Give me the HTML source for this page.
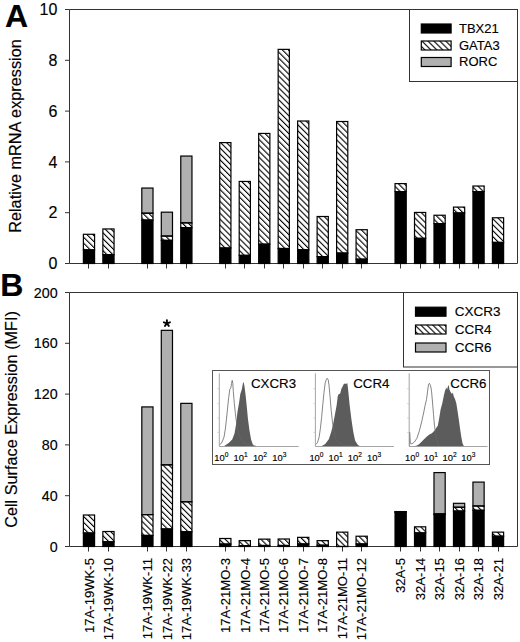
<!DOCTYPE html>
<html><head><meta charset="utf-8"><style>
html,body{margin:0;padding:0;background:#fff;width:520px;height:642px;overflow:hidden}
svg{display:block}
text{font-family:"Liberation Sans",sans-serif;fill:#000;stroke:#000;stroke-width:0.15px}
</style></head><body>
<svg width="520" height="642" viewBox="0 0 520 642" font-family="Liberation Sans, sans-serif">
<defs>
<pattern id="hatch" patternUnits="userSpaceOnUse" width="4.2" height="4.2" patternTransform="rotate(-45)">
<rect width="4.2" height="4.2" fill="#fff"/>
<rect x="0" y="0" width="1.1" height="4.2" fill="#000"/>
</pattern>
</defs>
<rect width="520" height="642" fill="#fff"/>
<text x="5.0" y="26.8" font-size="32" font-weight="bold">A</text>
<text x="0.3" y="296.4" font-size="32" font-weight="bold">B</text>
<text transform="translate(21.0,136.0) rotate(-90)" text-anchor="middle" font-size="16.3">Relative mRNA expression</text>
<text transform="translate(16.9,419.4) rotate(-90)" text-anchor="middle" font-size="16.25">Cell Surface Expression (MFI)</text>
<path d="M69.5,9.5H517.5V263.5H69.5Z" fill="none" stroke="#333" stroke-width="1"/>
<path d="M65.0,263.5H69.5" stroke="#333" stroke-width="1"/>
<text x="57.4" y="263.5" dy="0.36em" text-anchor="end" font-size="16">0</text>
<path d="M65.0,212.7H69.5" stroke="#333" stroke-width="1"/>
<text x="57.4" y="212.7" dy="0.36em" text-anchor="end" font-size="16">2</text>
<path d="M65.0,161.9H69.5" stroke="#333" stroke-width="1"/>
<text x="57.4" y="161.9" dy="0.36em" text-anchor="end" font-size="16">4</text>
<path d="M65.0,111.1H69.5" stroke="#333" stroke-width="1"/>
<text x="57.4" y="111.1" dy="0.36em" text-anchor="end" font-size="16">6</text>
<path d="M65.0,60.3H69.5" stroke="#333" stroke-width="1"/>
<text x="57.4" y="60.3" dy="0.36em" text-anchor="end" font-size="16">8</text>
<path d="M65.0,9.5H69.5" stroke="#333" stroke-width="1"/>
<text x="57.4" y="9.5" dy="0.36em" text-anchor="end" font-size="16">10</text>
<path d="M69.5,292.5H517.5V546.5H69.5Z" fill="none" stroke="#333" stroke-width="1"/>
<path d="M65.0,546.5H69.5" stroke="#333" stroke-width="1"/>
<text x="57.6" y="546.5" dy="0.36em" text-anchor="end" font-size="14.3">0</text>
<path d="M65.0,495.7H69.5" stroke="#333" stroke-width="1"/>
<text x="57.6" y="495.7" dy="0.36em" text-anchor="end" font-size="14.3">40</text>
<path d="M65.0,444.9H69.5" stroke="#333" stroke-width="1"/>
<text x="57.6" y="444.9" dy="0.36em" text-anchor="end" font-size="14.3">80</text>
<path d="M65.0,394.1H69.5" stroke="#333" stroke-width="1"/>
<text x="57.6" y="394.1" dy="0.36em" text-anchor="end" font-size="14.3">120</text>
<path d="M65.0,343.3H69.5" stroke="#333" stroke-width="1"/>
<text x="57.6" y="343.3" dy="0.36em" text-anchor="end" font-size="14.3">160</text>
<path d="M65.0,292.5H69.5" stroke="#333" stroke-width="1"/>
<text x="57.6" y="292.5" dy="0.36em" text-anchor="end" font-size="14.3">200</text>
<path d="M88.5,263.5V268.5" stroke="#333" stroke-width="1"/>
<path d="M108.5,263.5V268.5" stroke="#333" stroke-width="1"/>
<path d="M147.5,263.5V268.5" stroke="#333" stroke-width="1"/>
<path d="M166.5,263.5V268.5" stroke="#333" stroke-width="1"/>
<path d="M186.5,263.5V268.5" stroke="#333" stroke-width="1"/>
<path d="M225.5,263.5V268.5" stroke="#333" stroke-width="1"/>
<path d="M244.5,263.5V268.5" stroke="#333" stroke-width="1"/>
<path d="M264.5,263.5V268.5" stroke="#333" stroke-width="1"/>
<path d="M283.5,263.5V268.5" stroke="#333" stroke-width="1"/>
<path d="M303.5,263.5V268.5" stroke="#333" stroke-width="1"/>
<path d="M322.5,263.5V268.5" stroke="#333" stroke-width="1"/>
<path d="M342.5,263.5V268.5" stroke="#333" stroke-width="1"/>
<path d="M361.5,263.5V268.5" stroke="#333" stroke-width="1"/>
<path d="M400.5,263.5V268.5" stroke="#333" stroke-width="1"/>
<path d="M420.5,263.5V268.5" stroke="#333" stroke-width="1"/>
<path d="M439.5,263.5V268.5" stroke="#333" stroke-width="1"/>
<path d="M459.5,263.5V268.5" stroke="#333" stroke-width="1"/>
<path d="M478.5,263.5V268.5" stroke="#333" stroke-width="1"/>
<path d="M498.5,263.5V268.5" stroke="#333" stroke-width="1"/>
<path d="M88.5,546.5V551.5" stroke="#333" stroke-width="1"/>
<path d="M108.5,546.5V551.5" stroke="#333" stroke-width="1"/>
<path d="M147.5,546.5V551.5" stroke="#333" stroke-width="1"/>
<path d="M166.5,546.5V551.5" stroke="#333" stroke-width="1"/>
<path d="M186.5,546.5V551.5" stroke="#333" stroke-width="1"/>
<path d="M225.5,546.5V551.5" stroke="#333" stroke-width="1"/>
<path d="M244.5,546.5V551.5" stroke="#333" stroke-width="1"/>
<path d="M264.5,546.5V551.5" stroke="#333" stroke-width="1"/>
<path d="M283.5,546.5V551.5" stroke="#333" stroke-width="1"/>
<path d="M303.5,546.5V551.5" stroke="#333" stroke-width="1"/>
<path d="M322.5,546.5V551.5" stroke="#333" stroke-width="1"/>
<path d="M342.5,546.5V551.5" stroke="#333" stroke-width="1"/>
<path d="M361.5,546.5V551.5" stroke="#333" stroke-width="1"/>
<path d="M400.5,546.5V551.5" stroke="#333" stroke-width="1"/>
<path d="M420.5,546.5V551.5" stroke="#333" stroke-width="1"/>
<path d="M439.5,546.5V551.5" stroke="#333" stroke-width="1"/>
<path d="M459.5,546.5V551.5" stroke="#333" stroke-width="1"/>
<path d="M478.5,546.5V551.5" stroke="#333" stroke-width="1"/>
<path d="M498.5,546.5V551.5" stroke="#333" stroke-width="1"/>
<rect x="83.38" y="249.9" width="11.2" height="13.6" fill="#000"/>
<rect x="83.38" y="234.28" width="11.2" height="15.62" fill="url(#hatch)"/>
<rect x="83.38" y="249.9" width="11.2" height="13.6" fill="none" stroke="#000" stroke-width="1.2"/>
<rect x="83.38" y="234.28" width="11.2" height="15.62" fill="none" stroke="#000" stroke-width="1.2"/>
<rect x="102.86" y="254.7" width="11.2" height="8.8" fill="#000"/>
<rect x="102.86" y="228.95" width="11.2" height="25.76" fill="url(#hatch)"/>
<rect x="102.86" y="254.7" width="11.2" height="8.8" fill="none" stroke="#000" stroke-width="1.2"/>
<rect x="102.86" y="228.95" width="11.2" height="25.76" fill="none" stroke="#000" stroke-width="1.2"/>
<rect x="141.81" y="220.06" width="11.2" height="43.44" fill="#000"/>
<rect x="141.81" y="213.2" width="11.2" height="6.86" fill="url(#hatch)"/>
<rect x="141.81" y="188.05" width="11.2" height="25.15" fill="#b0b0b0"/>
<rect x="141.81" y="220.06" width="11.2" height="43.44" fill="none" stroke="#000" stroke-width="1.2"/>
<rect x="141.81" y="213.2" width="11.2" height="6.86" fill="none" stroke="#000" stroke-width="1.2"/>
<rect x="141.81" y="188.05" width="11.2" height="25.15" fill="none" stroke="#000" stroke-width="1.2"/>
<rect x="161.29" y="240.38" width="11.2" height="23.12" fill="#000"/>
<rect x="161.29" y="236.06" width="11.2" height="4.32" fill="url(#hatch)"/>
<rect x="161.29" y="212.18" width="11.2" height="23.88" fill="#b0b0b0"/>
<rect x="161.29" y="240.38" width="11.2" height="23.12" fill="none" stroke="#000" stroke-width="1.2"/>
<rect x="161.29" y="236.06" width="11.2" height="4.32" fill="none" stroke="#000" stroke-width="1.2"/>
<rect x="161.29" y="212.18" width="11.2" height="23.88" fill="none" stroke="#000" stroke-width="1.2"/>
<rect x="180.77" y="227.68" width="11.2" height="35.82" fill="#000"/>
<rect x="180.77" y="222.85" width="11.2" height="4.83" fill="url(#hatch)"/>
<rect x="180.77" y="156.05" width="11.2" height="66.8" fill="#b0b0b0"/>
<rect x="180.77" y="227.68" width="11.2" height="35.82" fill="none" stroke="#000" stroke-width="1.2"/>
<rect x="180.77" y="222.85" width="11.2" height="4.83" fill="none" stroke="#000" stroke-width="1.2"/>
<rect x="180.77" y="156.05" width="11.2" height="66.8" fill="none" stroke="#000" stroke-width="1.2"/>
<rect x="219.73" y="248" width="11.2" height="15.5" fill="#000"/>
<rect x="219.73" y="142.59" width="11.2" height="105.41" fill="url(#hatch)"/>
<rect x="219.73" y="248" width="11.2" height="15.5" fill="none" stroke="#000" stroke-width="1.2"/>
<rect x="219.73" y="142.59" width="11.2" height="105.41" fill="none" stroke="#000" stroke-width="1.2"/>
<rect x="239.2" y="255.36" width="11.2" height="8.14" fill="#000"/>
<rect x="239.2" y="181.45" width="11.2" height="73.91" fill="url(#hatch)"/>
<rect x="239.2" y="255.36" width="11.2" height="8.14" fill="none" stroke="#000" stroke-width="1.2"/>
<rect x="239.2" y="181.45" width="11.2" height="73.91" fill="none" stroke="#000" stroke-width="1.2"/>
<rect x="258.68" y="244.19" width="11.2" height="19.31" fill="#000"/>
<rect x="258.68" y="133.44" width="11.2" height="110.74" fill="url(#hatch)"/>
<rect x="258.68" y="244.19" width="11.2" height="19.31" fill="none" stroke="#000" stroke-width="1.2"/>
<rect x="258.68" y="133.44" width="11.2" height="110.74" fill="none" stroke="#000" stroke-width="1.2"/>
<rect x="278.16" y="248.51" width="11.2" height="14.99" fill="#000"/>
<rect x="278.16" y="49.37" width="11.2" height="199.14" fill="url(#hatch)"/>
<rect x="278.16" y="248.51" width="11.2" height="14.99" fill="none" stroke="#000" stroke-width="1.2"/>
<rect x="278.16" y="49.37" width="11.2" height="199.14" fill="none" stroke="#000" stroke-width="1.2"/>
<rect x="297.64" y="249.78" width="11.2" height="13.72" fill="#000"/>
<rect x="297.64" y="121" width="11.2" height="128.78" fill="url(#hatch)"/>
<rect x="297.64" y="249.78" width="11.2" height="13.72" fill="none" stroke="#000" stroke-width="1.2"/>
<rect x="297.64" y="121" width="11.2" height="128.78" fill="none" stroke="#000" stroke-width="1.2"/>
<rect x="317.12" y="256.63" width="11.2" height="6.87" fill="#000"/>
<rect x="317.12" y="216.5" width="11.2" height="40.13" fill="url(#hatch)"/>
<rect x="317.12" y="256.63" width="11.2" height="6.87" fill="none" stroke="#000" stroke-width="1.2"/>
<rect x="317.12" y="216.5" width="11.2" height="40.13" fill="none" stroke="#000" stroke-width="1.2"/>
<rect x="336.6" y="253.08" width="11.2" height="10.42" fill="#000"/>
<rect x="336.6" y="121.51" width="11.2" height="131.57" fill="url(#hatch)"/>
<rect x="336.6" y="253.08" width="11.2" height="10.42" fill="none" stroke="#000" stroke-width="1.2"/>
<rect x="336.6" y="121.51" width="11.2" height="131.57" fill="none" stroke="#000" stroke-width="1.2"/>
<rect x="356.07" y="259.17" width="11.2" height="4.33" fill="#000"/>
<rect x="356.07" y="229.71" width="11.2" height="29.46" fill="url(#hatch)"/>
<rect x="356.07" y="259.17" width="11.2" height="4.33" fill="none" stroke="#000" stroke-width="1.2"/>
<rect x="356.07" y="229.71" width="11.2" height="29.46" fill="none" stroke="#000" stroke-width="1.2"/>
<rect x="395.03" y="191.61" width="11.2" height="71.89" fill="#000"/>
<rect x="395.03" y="183.61" width="11.2" height="8" fill="url(#hatch)"/>
<rect x="395.03" y="191.61" width="11.2" height="71.89" fill="none" stroke="#000" stroke-width="1.2"/>
<rect x="395.03" y="183.61" width="11.2" height="8" fill="none" stroke="#000" stroke-width="1.2"/>
<rect x="414.51" y="238.35" width="11.2" height="25.15" fill="#000"/>
<rect x="414.51" y="212.44" width="11.2" height="25.91" fill="url(#hatch)"/>
<rect x="414.51" y="238.35" width="11.2" height="25.15" fill="none" stroke="#000" stroke-width="1.2"/>
<rect x="414.51" y="212.44" width="11.2" height="25.91" fill="none" stroke="#000" stroke-width="1.2"/>
<rect x="433.99" y="223.61" width="11.2" height="39.89" fill="#000"/>
<rect x="433.99" y="215.23" width="11.2" height="8.38" fill="url(#hatch)"/>
<rect x="433.99" y="223.61" width="11.2" height="39.89" fill="none" stroke="#000" stroke-width="1.2"/>
<rect x="433.99" y="215.23" width="11.2" height="8.38" fill="none" stroke="#000" stroke-width="1.2"/>
<rect x="453.47" y="212.95" width="11.2" height="50.55" fill="#000"/>
<rect x="453.47" y="207.1" width="11.2" height="5.84" fill="url(#hatch)"/>
<rect x="453.47" y="212.95" width="11.2" height="50.55" fill="none" stroke="#000" stroke-width="1.2"/>
<rect x="453.47" y="207.1" width="11.2" height="5.84" fill="none" stroke="#000" stroke-width="1.2"/>
<rect x="472.94" y="191.61" width="11.2" height="71.89" fill="#000"/>
<rect x="472.94" y="186.02" width="11.2" height="5.59" fill="url(#hatch)"/>
<rect x="472.94" y="191.61" width="11.2" height="71.89" fill="none" stroke="#000" stroke-width="1.2"/>
<rect x="472.94" y="186.02" width="11.2" height="5.59" fill="none" stroke="#000" stroke-width="1.2"/>
<rect x="492.42" y="242.41" width="11.2" height="21.09" fill="#000"/>
<rect x="492.42" y="217.77" width="11.2" height="24.64" fill="url(#hatch)"/>
<rect x="492.42" y="242.41" width="11.2" height="21.09" fill="none" stroke="#000" stroke-width="1.2"/>
<rect x="492.42" y="217.77" width="11.2" height="24.64" fill="none" stroke="#000" stroke-width="1.2"/>
<rect x="83.38" y="533.03" width="11.2" height="13.47" fill="#000"/>
<rect x="83.38" y="515" width="11.2" height="18.03" fill="url(#hatch)"/>
<rect x="83.38" y="533.03" width="11.2" height="13.47" fill="none" stroke="#000" stroke-width="1.2"/>
<rect x="83.38" y="515" width="11.2" height="18.03" fill="none" stroke="#000" stroke-width="1.2"/>
<rect x="102.86" y="541.79" width="11.2" height="4.71" fill="#000"/>
<rect x="102.86" y="531.51" width="11.2" height="10.29" fill="url(#hatch)"/>
<rect x="102.86" y="541.79" width="11.2" height="4.71" fill="none" stroke="#000" stroke-width="1.2"/>
<rect x="102.86" y="531.51" width="11.2" height="10.29" fill="none" stroke="#000" stroke-width="1.2"/>
<rect x="141.81" y="535.44" width="11.2" height="11.06" fill="#000"/>
<rect x="141.81" y="514.62" width="11.2" height="20.83" fill="url(#hatch)"/>
<rect x="141.81" y="406.92" width="11.2" height="107.7" fill="#b0b0b0"/>
<rect x="141.81" y="535.44" width="11.2" height="11.06" fill="none" stroke="#000" stroke-width="1.2"/>
<rect x="141.81" y="514.62" width="11.2" height="20.83" fill="none" stroke="#000" stroke-width="1.2"/>
<rect x="141.81" y="406.92" width="11.2" height="107.7" fill="none" stroke="#000" stroke-width="1.2"/>
<rect x="161.29" y="528.97" width="11.2" height="17.53" fill="#000"/>
<rect x="161.29" y="464.83" width="11.2" height="64.13" fill="url(#hatch)"/>
<rect x="161.29" y="330.34" width="11.2" height="134.49" fill="#b0b0b0"/>
<rect x="161.29" y="528.97" width="11.2" height="17.53" fill="none" stroke="#000" stroke-width="1.2"/>
<rect x="161.29" y="464.83" width="11.2" height="64.13" fill="none" stroke="#000" stroke-width="1.2"/>
<rect x="161.29" y="330.34" width="11.2" height="134.49" fill="none" stroke="#000" stroke-width="1.2"/>
<rect x="180.77" y="531.76" width="11.2" height="14.74" fill="#000"/>
<rect x="180.77" y="501.79" width="11.2" height="29.97" fill="url(#hatch)"/>
<rect x="180.77" y="403.36" width="11.2" height="98.43" fill="#b0b0b0"/>
<rect x="180.77" y="531.76" width="11.2" height="14.74" fill="none" stroke="#000" stroke-width="1.2"/>
<rect x="180.77" y="501.79" width="11.2" height="29.97" fill="none" stroke="#000" stroke-width="1.2"/>
<rect x="180.77" y="403.36" width="11.2" height="98.43" fill="none" stroke="#000" stroke-width="1.2"/>
<rect x="219.73" y="544.08" width="11.2" height="2.42" fill="#000"/>
<rect x="219.73" y="538.49" width="11.2" height="5.59" fill="url(#hatch)"/>
<rect x="219.73" y="544.08" width="11.2" height="2.42" fill="none" stroke="#000" stroke-width="1.2"/>
<rect x="219.73" y="538.49" width="11.2" height="5.59" fill="none" stroke="#000" stroke-width="1.2"/>
<rect x="239.2" y="545.6" width="11.2" height="0.9" fill="#000"/>
<rect x="239.2" y="540.65" width="11.2" height="4.95" fill="url(#hatch)"/>
<rect x="239.2" y="545.6" width="11.2" height="0.9" fill="none" stroke="#000" stroke-width="1.2"/>
<rect x="239.2" y="540.65" width="11.2" height="4.95" fill="none" stroke="#000" stroke-width="1.2"/>
<rect x="258.68" y="545.48" width="11.2" height="1.02" fill="#000"/>
<rect x="258.68" y="539.13" width="11.2" height="6.35" fill="url(#hatch)"/>
<rect x="258.68" y="545.48" width="11.2" height="1.02" fill="none" stroke="#000" stroke-width="1.2"/>
<rect x="258.68" y="539.13" width="11.2" height="6.35" fill="none" stroke="#000" stroke-width="1.2"/>
<rect x="278.16" y="545.48" width="11.2" height="1.02" fill="#000"/>
<rect x="278.16" y="539" width="11.2" height="6.48" fill="url(#hatch)"/>
<rect x="278.16" y="545.48" width="11.2" height="1.02" fill="none" stroke="#000" stroke-width="1.2"/>
<rect x="278.16" y="539" width="11.2" height="6.48" fill="none" stroke="#000" stroke-width="1.2"/>
<rect x="297.64" y="543.95" width="11.2" height="2.55" fill="#000"/>
<rect x="297.64" y="537.35" width="11.2" height="6.6" fill="url(#hatch)"/>
<rect x="297.64" y="543.95" width="11.2" height="2.55" fill="none" stroke="#000" stroke-width="1.2"/>
<rect x="297.64" y="537.35" width="11.2" height="6.6" fill="none" stroke="#000" stroke-width="1.2"/>
<rect x="317.12" y="545.22" width="11.2" height="1.28" fill="#000"/>
<rect x="317.12" y="540.65" width="11.2" height="4.57" fill="url(#hatch)"/>
<rect x="317.12" y="545.22" width="11.2" height="1.28" fill="none" stroke="#000" stroke-width="1.2"/>
<rect x="317.12" y="540.65" width="11.2" height="4.57" fill="none" stroke="#000" stroke-width="1.2"/>
<rect x="336.6" y="546.49" width="11.2" height="0.01" fill="#000"/>
<rect x="336.6" y="532.14" width="11.2" height="14.35" fill="url(#hatch)"/>
<rect x="336.6" y="546.49" width="11.2" height="0.01" fill="none" stroke="#000" stroke-width="1.2"/>
<rect x="336.6" y="532.14" width="11.2" height="14.35" fill="none" stroke="#000" stroke-width="1.2"/>
<rect x="356.07" y="543.95" width="11.2" height="2.55" fill="#000"/>
<rect x="356.07" y="536.21" width="11.2" height="7.75" fill="url(#hatch)"/>
<rect x="356.07" y="543.95" width="11.2" height="2.55" fill="none" stroke="#000" stroke-width="1.2"/>
<rect x="356.07" y="536.21" width="11.2" height="7.75" fill="none" stroke="#000" stroke-width="1.2"/>
<rect x="395.03" y="512.2" width="11.2" height="34.3" fill="#000"/>
<rect x="395.03" y="511.82" width="11.2" height="0.38" fill="url(#hatch)"/>
<rect x="395.03" y="511.57" width="11.2" height="0.25" fill="#b0b0b0"/>
<rect x="395.03" y="512.2" width="11.2" height="34.3" fill="none" stroke="#000" stroke-width="1.2"/>
<rect x="395.03" y="511.82" width="11.2" height="0.38" fill="none" stroke="#000" stroke-width="1.2"/>
<rect x="395.03" y="511.57" width="11.2" height="0.25" fill="none" stroke="#000" stroke-width="1.2"/>
<rect x="414.51" y="532.9" width="11.2" height="13.6" fill="#000"/>
<rect x="414.51" y="526.81" width="11.2" height="6.1" fill="url(#hatch)"/>
<rect x="414.51" y="532.9" width="11.2" height="13.6" fill="none" stroke="#000" stroke-width="1.2"/>
<rect x="414.51" y="526.81" width="11.2" height="6.1" fill="none" stroke="#000" stroke-width="1.2"/>
<rect x="433.99" y="514.62" width="11.2" height="31.88" fill="#000"/>
<rect x="433.99" y="513.85" width="11.2" height="0.76" fill="url(#hatch)"/>
<rect x="433.99" y="472.58" width="11.2" height="41.27" fill="#b0b0b0"/>
<rect x="433.99" y="514.62" width="11.2" height="31.88" fill="none" stroke="#000" stroke-width="1.2"/>
<rect x="433.99" y="513.85" width="11.2" height="0.76" fill="none" stroke="#000" stroke-width="1.2"/>
<rect x="433.99" y="472.58" width="11.2" height="41.27" fill="none" stroke="#000" stroke-width="1.2"/>
<rect x="453.47" y="511.06" width="11.2" height="35.44" fill="#000"/>
<rect x="453.47" y="507.25" width="11.2" height="3.81" fill="url(#hatch)"/>
<rect x="453.47" y="503.31" width="11.2" height="3.94" fill="#b0b0b0"/>
<rect x="453.47" y="511.06" width="11.2" height="35.44" fill="none" stroke="#000" stroke-width="1.2"/>
<rect x="453.47" y="507.25" width="11.2" height="3.81" fill="none" stroke="#000" stroke-width="1.2"/>
<rect x="453.47" y="503.31" width="11.2" height="3.94" fill="none" stroke="#000" stroke-width="1.2"/>
<rect x="472.94" y="510.3" width="11.2" height="36.2" fill="#000"/>
<rect x="472.94" y="505.98" width="11.2" height="4.32" fill="url(#hatch)"/>
<rect x="472.94" y="482.1" width="11.2" height="23.88" fill="#b0b0b0"/>
<rect x="472.94" y="510.3" width="11.2" height="36.2" fill="none" stroke="#000" stroke-width="1.2"/>
<rect x="472.94" y="505.98" width="11.2" height="4.32" fill="none" stroke="#000" stroke-width="1.2"/>
<rect x="472.94" y="482.1" width="11.2" height="23.88" fill="none" stroke="#000" stroke-width="1.2"/>
<rect x="492.42" y="536.21" width="11.2" height="10.29" fill="#000"/>
<rect x="492.42" y="532.14" width="11.2" height="4.06" fill="url(#hatch)"/>
<rect x="492.42" y="536.21" width="11.2" height="10.29" fill="none" stroke="#000" stroke-width="1.2"/>
<rect x="492.42" y="532.14" width="11.2" height="4.06" fill="none" stroke="#000" stroke-width="1.2"/>
<path d="M166.9,323.3V320.1M166.9,323.3L163.86,322.31M166.9,323.3L169.94,322.31M166.9,323.3L165.02,325.89M166.9,323.3L168.78,325.89" stroke="#000" stroke-width="1.9" stroke-linecap="round"/>
<rect x="409.5" y="9.5" width="108.0" height="72.0" fill="#fff" stroke="#333" stroke-width="1"/>
<rect x="421.3" y="24" width="29.8" height="9" fill="#000" stroke="#000" stroke-width="1.2"/>
<text x="459" y="28.1" dy="0.36em" font-size="13">TBX21</text>
<rect x="421.3" y="41" width="29.8" height="9" fill="url(#hatch)" stroke="#000" stroke-width="1.2"/>
<text x="459" y="45.1" dy="0.36em" font-size="13">GATA3</text>
<rect x="421.3" y="57.5" width="29.8" height="9" fill="#b0b0b0" stroke="#000" stroke-width="1.2"/>
<text x="459" y="61.6" dy="0.36em" font-size="13">RORC</text>
<rect x="403.5" y="292.5" width="114.0" height="74.5" fill="#fff" stroke="#333" stroke-width="1"/>
<rect x="415.5" y="307.2" width="30.5" height="9" fill="#000" stroke="#000" stroke-width="1.2"/>
<text x="454.8" y="311.3" dy="0.36em" font-size="13.5">CXCR3</text>
<rect x="415.5" y="325" width="30.5" height="9" fill="url(#hatch)" stroke="#000" stroke-width="1.2"/>
<text x="454.8" y="329.1" dy="0.36em" font-size="13.5">CCR4</text>
<rect x="415.5" y="343" width="30.5" height="9" fill="#b0b0b0" stroke="#000" stroke-width="1.2"/>
<text x="454.8" y="347.1" dy="0.36em" font-size="13.5">CCR6</text>
<rect x="212.5" y="370.5" width="277" height="94" fill="#fff" stroke="#555" stroke-width="1"/>
<polygon points="223.5,446.5 228.7,442.9 232.2,439.4 234.5,433.6 236.3,423.1 237.4,412.5 239.2,402 240.3,393.9 241.5,390.4 242.1,388 242.9,383.3 243.6,381.9 244.4,385.7 245.6,395 246.8,406.7 247.9,418.4 249.4,430.1 251.1,439.4 252.6,444.1 254.5,446.5" fill="#5c5c5c"/>
<polyline points="219.3,444.9 221.7,442.9 224,437.1 225.2,430.1 226.3,420.7 227.5,409 228.7,397.4 229.8,389.2 230.8,388 231.6,383.3 232.2,380.4 232.8,383.3 233.3,391.5 234.3,403.2 235.4,413.7 236.6,423.1 238,431.2 240.3,438.3 243.8,442.9 248.5,444.7 252,445.5 256,446.2" fill="none" stroke="#666" stroke-width="0.8"/>
<path d="M219.3,373.3V446.5H298.7" fill="none" stroke="#9a9a9a" stroke-width="0.9"/>
<path d="M217.3,388.7h2M217.3,403.6h2M217.3,418h2M217.3,432.3h2" stroke="#c8c8c8" stroke-width="0.8"/>
<text x="251.0" y="387.6" font-size="13.3">CXCR3</text>
<text x="214.3" y="460.8" font-size="9.4">10<tspan dy="-3.8" font-size="6.6">0</tspan></text>
<text x="233.6" y="460.8" font-size="9.4">10<tspan dy="-3.8" font-size="6.6">1</tspan></text>
<text x="252.9" y="460.8" font-size="9.4">10<tspan dy="-3.8" font-size="6.6">2</tspan></text>
<text x="272.2" y="460.8" font-size="9.4">10<tspan dy="-3.8" font-size="6.6">3</tspan></text>
<polygon points="321,446.5 325.2,444 328.8,439.2 331.2,432 333,424.8 334.8,415.2 336.6,405.6 337.8,396 338.6,394.2 340.2,393.6 341.4,388.8 342.6,386.4 343.8,384 345,383.4 346.1,384 347.3,383 347.9,387.6 348.5,393.6 349.7,405.6 351.5,420 353.3,432 355.1,440.4 357.5,444.6 360,446.5" fill="#5c5c5c"/>
<polyline points="315.6,444.6 317.4,442.8 319.2,436.8 320.4,428.4 321.6,417.6 322.8,404.4 324,392.4 325.2,382.8 326.4,379.2 327.2,378.2 328.2,379.8 329,385.2 330,396 331.2,410.4 332.4,421.2 333.6,429.6 335.4,438 338.4,442.8 343.2,444.6 348,445.4 354,446.2" fill="none" stroke="#666" stroke-width="0.8"/>
<path d="M315.4,373.3V446.5H393.9" fill="none" stroke="#9a9a9a" stroke-width="0.9"/>
<path d="M313.4,388.7h2M313.4,403.6h2M313.4,418h2M313.4,432.3h2" stroke="#c8c8c8" stroke-width="0.8"/>
<text x="353.2" y="387.6" font-size="13.3">CCR4</text>
<text x="309.4" y="460.8" font-size="9.4">10<tspan dy="-3.8" font-size="6.6">0</tspan></text>
<text x="328.6" y="460.8" font-size="9.4">10<tspan dy="-3.8" font-size="6.6">1</tspan></text>
<text x="347.8" y="460.8" font-size="9.4">10<tspan dy="-3.8" font-size="6.6">2</tspan></text>
<text x="367" y="460.8" font-size="9.4">10<tspan dy="-3.8" font-size="6.6">3</tspan></text>
<polygon points="412,446.5 416.3,445.8 418.8,444.5 421.3,442 423.8,439.5 426.9,436.4 429.4,434.5 431.9,433.3 434.4,430.8 435.6,428.9 436.5,427.6 437.8,425.8 439,419.5 440.6,409.5 442.3,403.3 443.8,395.8 445,390.8 446.3,387.6 447.1,389.5 447.9,386.4 448.8,385.1 449.4,389.5 450.6,392 451.9,393.9 452.8,392.6 453.8,396.4 455,398.9 456.3,403.3 457.5,410.8 458.8,419.5 460,428.3 461.3,437 462.5,443.3 464,446.5" fill="#5c5c5c"/>
<polyline points="409.6,446.4 409.6,432 410.3,443.3 411.9,443.9 414.4,442 416.9,438.3 419.4,430.8 421.9,420.8 423.8,412 425,405.8 426.5,399.5 427.5,392 428.5,384.5 429.4,383.3 430.6,385.8 431.5,390.8 432.5,402 433.5,414.5 434.5,425.8 435.6,433.3 436.9,439.5 438.1,444.5 440,446.4" fill="none" stroke="#666" stroke-width="0.8"/>
<path d="M409.2,373.3V446.5H487.5" fill="none" stroke="#9a9a9a" stroke-width="0.9"/>
<path d="M407.2,388.7h2M407.2,403.6h2M407.2,418h2M407.2,432.3h2" stroke="#c8c8c8" stroke-width="0.8"/>
<text x="450.3" y="387.6" font-size="13.3">CCR6</text>
<text x="405.1" y="460.8" font-size="9.4">10<tspan dy="-3.8" font-size="6.6">0</tspan></text>
<text x="423.8" y="460.8" font-size="9.4">10<tspan dy="-3.8" font-size="6.6">1</tspan></text>
<text x="442.5" y="460.8" font-size="9.4">10<tspan dy="-3.8" font-size="6.6">2</tspan></text>
<text x="461.2" y="460.8" font-size="9.4">10<tspan dy="-3.8" font-size="6.6">3</tspan></text>
<text transform="translate(88.98,558) rotate(-90)" x="0" y="0" dy="0.36em" text-anchor="end" font-size="13.1">17A-19WK-5</text>
<text transform="translate(108.46,558) rotate(-90)" x="0" y="0" dy="0.36em" text-anchor="end" font-size="13.1">17A-19WK-10</text>
<text transform="translate(147.41,558) rotate(-90)" x="0" y="0" dy="0.36em" text-anchor="end" font-size="13.1">17A-19WK-11</text>
<text transform="translate(166.89,558) rotate(-90)" x="0" y="0" dy="0.36em" text-anchor="end" font-size="13.1">17A-19WK-22</text>
<text transform="translate(186.37,558) rotate(-90)" x="0" y="0" dy="0.36em" text-anchor="end" font-size="13.1">17A-19WK-33</text>
<text transform="translate(225.33,558) rotate(-90)" x="0" y="0" dy="0.36em" text-anchor="end" font-size="13.1">17A-21MO-3</text>
<text transform="translate(244.8,558) rotate(-90)" x="0" y="0" dy="0.36em" text-anchor="end" font-size="13.1">17A-21MO-4</text>
<text transform="translate(264.28,558) rotate(-90)" x="0" y="0" dy="0.36em" text-anchor="end" font-size="13.1">17A-21MO-5</text>
<text transform="translate(283.76,558) rotate(-90)" x="0" y="0" dy="0.36em" text-anchor="end" font-size="13.1">17A-21MO-6</text>
<text transform="translate(303.24,558) rotate(-90)" x="0" y="0" dy="0.36em" text-anchor="end" font-size="13.1">17A-21MO-7</text>
<text transform="translate(322.72,558) rotate(-90)" x="0" y="0" dy="0.36em" text-anchor="end" font-size="13.1">17A-21MO-8</text>
<text transform="translate(342.2,558) rotate(-90)" x="0" y="0" dy="0.36em" text-anchor="end" font-size="13.1">17A-21MO-11</text>
<text transform="translate(361.67,558) rotate(-90)" x="0" y="0" dy="0.36em" text-anchor="end" font-size="13.1">17A-21MO-12</text>
<text transform="translate(400.63,558) rotate(-90)" x="0" y="0" dy="0.36em" text-anchor="end" font-size="13.1">32A-5</text>
<text transform="translate(420.11,558) rotate(-90)" x="0" y="0" dy="0.36em" text-anchor="end" font-size="13.1">32A-14</text>
<text transform="translate(439.59,558) rotate(-90)" x="0" y="0" dy="0.36em" text-anchor="end" font-size="13.1">32A-15</text>
<text transform="translate(459.07,558) rotate(-90)" x="0" y="0" dy="0.36em" text-anchor="end" font-size="13.1">32A-16</text>
<text transform="translate(478.54,558) rotate(-90)" x="0" y="0" dy="0.36em" text-anchor="end" font-size="13.1">32A-18</text>
<text transform="translate(498.02,558) rotate(-90)" x="0" y="0" dy="0.36em" text-anchor="end" font-size="13.1">32A-21</text>
</svg>
</body></html>
